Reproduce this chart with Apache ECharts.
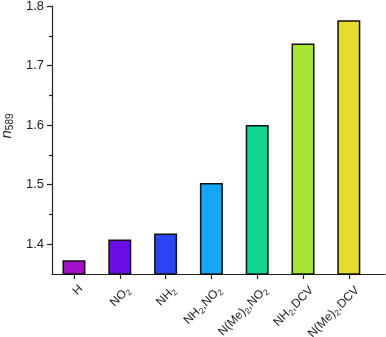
<!DOCTYPE html>
<html>
<head>
<meta charset="utf-8">
<script src="https://cdn.jsdelivr.net/npm/echarts@6/dist/echarts.min.js"></script>
<style>
  html, body { margin: 0; padding: 0; background: #fff; }
  #chart { width: 386px; height: 337px; }
</style>
</head>
<body>
<div id="chart"></div>
<script>
// categories (digits are drawn as subscripts)
var categories = ['H', 'NO2', 'NH2', 'NH2,NO2', 'N(Me)2,NO2', 'NH2,DCV', 'N(Me)2,DCV'];
// refractive index at 589 nm
var n589 = [1.373, 1.408, 1.418, 1.503, 1.600, 1.737, 1.776];
var barColors = ['#a20fc9', '#6a0ee8', '#2a45f6', '#14a6fa', '#10d690', '#a6e632', '#e6dc2e'];
var yTicks = [1.4, 1.5, 1.6, 1.7, 1.8];
var yMinorTicks = [1.45, 1.55, 1.65, 1.75];

var myChart = echarts.init(document.getElementById('chart'));

var positions = categories.map(function (c, i) { return i + 1; });

var barData = n589.map(function (v, i) {
    return {
        value: [i + 1, v],
        itemStyle: { color: barColors[i] }
    };
});

var font = 'Liberation Sans, Arial, sans-serif';

var option = {
    animation: false,
    grid: {
        left: 52,
        right: 1,
        top: 6,
        bottom: 63,
        outerBoundsMode: 'none',
        containLabel: false
    },
    xAxis: {
        type: 'value',
        min: 0.52,
        max: 7.79,
        splitLine: { show: false },
        axisLine: { show: true, onZero: false, lineStyle: { color: '#222', width: 1.2 } },
        axisTick: {
            show: true,
            customValues: positions,
            length: 5,
            lineStyle: { color: '#222', width: 1.2 }
        },
        axisLabel: {
            customValues: positions,
            rotate: 45,
            margin: 6,
            verticalAlign: 'top',
            padding: [4, 0, 0, 0],
            color: '#222',
            fontFamily: font,
            fontSize: 12,
            formatter: function (v) {
                var name = categories[Math.round(v) - 1] || '';
                return name.replace(/(\d+)/g, '{s|$1}');
            },
            rich: {
                s: {
                    fontSize: 8.5,
                    color: '#222',
                    fontFamily: font,
                    verticalAlign: 'bottom',
                    padding: [7, 0, 0, 0]
                }
            }
        }
    },
    yAxis: [
        {
            type: 'value',
            min: 1.35,
            max: 1.8,
            splitLine: { show: false },
            axisLine: { show: true, onZero: false, lineStyle: { color: '#222', width: 1.2 } },
            axisTick: {
                show: true,
                customValues: yTicks,
                length: 5,
                lineStyle: { color: '#222', width: 1.2 }
            },
            axisLabel: {
                customValues: yTicks,
                color: '#222',
                fontFamily: font,
                fontSize: 13,
                margin: 8,
                formatter: function (v) { return v.toFixed(1); }
            },
            name: '{n|n}{s|589}',
            nameLocation: 'middle',
            nameRotate: 90,
            nameGap: 33,
            nameTextStyle: {
                padding: [0, 0, 0, 28],
                rich: {
                    n: {
                        fontSize: 15,
                        fontStyle: 'italic',
                        color: '#222',
                        fontFamily: font
                    },
                    s: {
                        fontSize: 10,
                        color: '#222',
                        fontFamily: font,
                        verticalAlign: 'bottom',
                        padding: [7, 0, 0, 0]
                    }
                }
            }
        },
        {
            // minor ticks
            type: 'value',
            position: 'left',
            min: 1.35,
            max: 1.8,
            splitLine: { show: false },
            axisLine: { show: false },
            axisTick: {
                show: true,
                customValues: yMinorTicks,
                length: 3,
                lineStyle: { color: '#222', width: 1.2 }
            },
            axisLabel: { show: false }
        }
    ],
    series: [
        {
            type: 'bar',
            barWidth: 23,
            data: barData,
            itemStyle: {
                borderColor: '#111',
                borderWidth: 1.5
            }
        }
    ]
};

myChart.setOption(option);
</script>
</body>
</html>
